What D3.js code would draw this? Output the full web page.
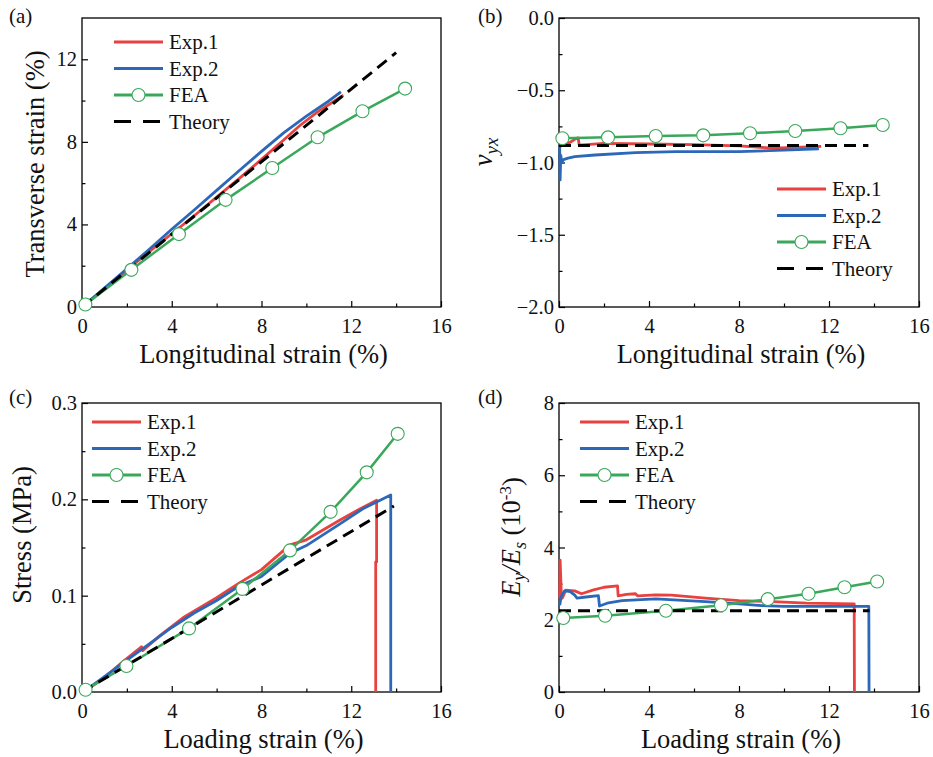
<!DOCTYPE html>
<html>
<head>
<meta charset="utf-8">
<script src="https://cdn.jsdelivr.net/npm/d3@7"></script>
<style>
  body { margin: 0; background: #fff; }
  svg text { font-family: "Liberation Serif", "Times New Roman", Times, serif; }
</style>
</head>
<body>
<script>
// ---- data ----
var xTicks = [0, 4, 8, 12, 16]
var legendNames = ['Exp.1', 'Exp.2', 'FEA', 'Theory']

// (a) transverse vs longitudinal strain
var aExp1 = [[0, 0], [1, 0.88], [2, 1.8], [3, 2.68], [4, 3.55], [5, 4.42], [6, 5.32], [7, 6.22], [8, 7.15], [9, 8.1], [9.7, 8.78], [10.5, 9.45], [11.65, 10.26]]
var aExp2 = [[0, 0], [1, 0.92], [2, 1.85], [3, 2.8], [4, 3.77], [5, 4.7], [6, 5.65], [7, 6.6], [8, 7.54], [9, 8.45], [10, 9.25], [11, 9.98], [11.54, 10.42]]
var aFEA = [[0.15, 0.12], [2.2, 1.8], [4.32, 3.53], [6.4, 5.19], [8.48, 6.73], [10.5, 8.22], [12.5, 9.48], [14.4, 10.58]]
var aTheory = [[0, 0], [14, 12.32]]
var aYTicks = [0, 4, 8, 12]

// (b) poisson's ratio
var bExp1 = [[0.08, -0.89], [0.2, -0.87], [0.5, -0.86], [0.75, -0.835], [0.85, -0.83], [0.9, -0.88], [2, -0.868], [4, -0.872], [6, -0.876], [8, -0.885], [9.5, -0.9], [10.5, -0.895], [11.65, -0.888]]
var bExp2 = [[0.03, -0.89], [0.05, -1.12], [0.08, -0.95], [0.12, -1.0], [0.2, -0.98], [0.4, -0.97], [0.7, -0.96], [1.6, -0.948], [3.4, -0.932], [5.2, -0.925], [8, -0.925], [10, -0.915], [11.55, -0.905]]
var bFEA = [[0.15, -0.832], [2.18, -0.826], [4.3, -0.817], [6.41, -0.812], [8.49, -0.798], [10.5, -0.782], [12.51, -0.763], [14.39, -0.74]]
var bTheory = [[0, -0.882], [13.75, -0.882]]
var bYTicks = [-2, -1.5, -1, -0.5, 0]

// (c) stress vs loading strain
var cExp1 = [[0, 0], [0.5, 0.007], [1, 0.015], [1.8, 0.031], [2.65, 0.047], [2.7, 0.043], [3.5, 0.059], [4.5, 0.077], [6, 0.098], [7, 0.113], [8, 0.127], [9.27, 0.1527], [10, 0.158], [11.5, 0.1786], [12.3, 0.189], [13.13, 0.199], [13.13, 0.135], [13.09, 0.135], [13.09, 0]]
var cExp2 = [[0.3, 0.004], [1, 0.016], [2, 0.033], [3, 0.05], [4, 0.067], [5, 0.082], [6, 0.095], [7, 0.11], [8, 0.12], [9.27, 0.144], [10, 0.152], [11.5, 0.1745], [12.5, 0.19], [13.76, 0.2046], [13.76, 0]]
var cFEA = [[0.16, 0.0024], [1.98, 0.027], [4.77, 0.066], [7.15, 0.107], [9.27, 0.147], [11.08, 0.187], [12.69, 0.228], [14.07, 0.268]]
var cTheory = [[0, 0], [13.9, 0.193]]
var cYTicks = [0, 0.1, 0.2, 0.3]

// (d) relative modulus
var dExp1 = [[0.03, 2.6], [0.05, 3.65], [0.1, 2.75], [0.15, 2.6], [0.3, 2.82], [0.7, 2.8], [1.0, 2.72], [1.5, 2.82], [2.0, 2.9], [2.6, 2.94], [2.63, 2.66], [3.0, 2.7], [3.4, 2.72], [3.5, 2.66], [4.3, 2.69], [5, 2.68], [6.5, 2.6], [8, 2.53], [9.5, 2.5], [11, 2.46], [13.12, 2.44], [13.13, 0]]
var dExp2 = [[0.03, 2.4], [0.1, 2.65], [0.25, 2.8], [0.5, 2.78], [0.7, 2.68], [0.8, 2.6], [1.2, 2.63], [1.75, 2.67], [1.8, 2.38], [2.2, 2.47], [2.8, 2.53], [4.3, 2.58], [6.5, 2.5], [8, 2.44], [9, 2.39], [10, 2.37], [13.77, 2.37], [13.78, 0]]
var dFEA = [[0.19, 2.05], [2.05, 2.11], [4.75, 2.25], [7.2, 2.40], [9.28, 2.57], [11.09, 2.72], [12.69, 2.90], [14.14, 3.06]]
var dTheory = [[0, 2.25], [13.8, 2.25]]
var dYTicks = [0, 2, 4, 6, 8]

var colors = { exp1: '#e8413f', exp2: '#2b68b8', fea: '#3aa85a', theory: '#000' }
var serif = '"Liberation Serif", "Times New Roman", Times, serif'

var svg = d3.select('body').append('svg')
  .attr('width', 933)
  .attr('height', 757)

function drawPanel(p) {
  var x = d3.scaleLinear().domain([0, 16]).range([p.l, p.r])
  var y = d3.scaleLinear().domain(p.yDomain).range([p.b, p.t])
  var g = svg.append('g')
    .attr('font-family', serif)

  // minor ticks
  var xMinor = d3.range(2, 16, 4)
  var yMinor = d3.range(p.yTicks.length - 1).map(i => (p.yTicks[i] + p.yTicks[i + 1]) / 2)

  g.append('g')
    .attr('transform', `translate(0,${p.b})`)
    .call(d3.axisBottom(x).tickValues(xMinor).tickSize(-3.5).tickFormat(''))
  g.append('g')
    .attr('transform', `translate(${p.l},0)`)
    .call(d3.axisLeft(y).tickValues(yMinor).tickSize(-3.5).tickFormat(''))

  // major ticks
  var xa = g.append('g')
    .attr('transform', `translate(0,${p.b})`)
    .call(d3.axisBottom(x).tickValues(xTicks).tickSize(-6).tickPadding(11).tickFormat(d3.format('d')))
  var ya = g.append('g')
    .attr('transform', `translate(${p.l},0)`)
    .call(d3.axisLeft(y).tickValues(p.yTicks).tickSize(-6).tickPadding(5).tickFormat(p.fmt))

  g.selectAll('g').attr('font-family', serif).attr('font-size', null)
  g.selectAll('.domain').remove()
  g.selectAll('.tick line').attr('stroke', '#000').attr('stroke-width', 1.2)
  xa.selectAll('text').style('font-size', '20.5px').attr('fill', '#111')
  ya.selectAll('text').style('font-size', '20.5px').attr('fill', '#111')

  g.append('rect')
    .attr('x', p.l).attr('y', p.t)
    .attr('width', p.r - p.l).attr('height', p.b - p.t)
    .attr('fill', 'none').attr('stroke', '#000').attr('stroke-width', 1.3)

  var line = d3.line().x(d => x(d[0])).y(d => y(d[1]))

  g.append('path').attr('d', line(p.exp1)).attr('fill', 'none')
    .attr('stroke', colors.exp1).attr('stroke-width', 2.8).attr('stroke-linejoin', 'round')
  g.append('path').attr('d', line(p.exp2)).attr('fill', 'none')
    .attr('stroke', colors.exp2).attr('stroke-width', 2.8).attr('stroke-linejoin', 'round')
  g.append('path').attr('d', line(p.fea)).attr('fill', 'none')
    .attr('stroke', colors.fea).attr('stroke-width', 2.5)
  g.append('path').attr('d', line(p.theory)).attr('fill', 'none')
    .attr('stroke', colors.theory).attr('stroke-width', 3).attr('stroke-dasharray', '12,7')
  g.selectAll('.fea-dot')
    .data(p.fea)
    .enter()
    .append('circle')
    .attr('class', 'fea-dot')
    .attr('cx', d => x(d[0]))
    .attr('cy', d => y(d[1]))
    .attr('r', 6.5)
    .attr('fill', '#fff')
    .attr('stroke', colors.fea)
    .attr('stroke-width', 1.1)

  // legend
  var lg = g.append('g')
  var styles = [
    { c: colors.exp1, dash: null },
    { c: colors.exp2, dash: null },
    { c: colors.fea, dash: null, dot: true },
    { c: colors.theory, dash: '17,12' }
  ]
  legendNames.forEach((name, i) => {
    var ly = p.legY + i * 26.5
    lg.append('line')
      .attr('x1', p.legX).attr('x2', p.legX + 49)
      .attr('y1', ly).attr('y2', ly)
      .attr('stroke', styles[i].c)
      .attr('stroke-width', 3)
      .attr('stroke-dasharray', styles[i].dash)
    if (styles[i].dot) {
      lg.append('circle')
        .attr('cx', p.legX + 24.5).attr('cy', ly).attr('r', 6.5)
        .attr('fill', '#fff').attr('stroke', colors.fea).attr('stroke-width', 1.1)
    }
    lg.append('text')
      .attr('x', p.legX + 55).attr('y', ly)
      .attr('dy', '0.34em')
      .style('font-size', '21px')
      .attr('fill', '#111')
      .text(name)
  })

  // panel letter
  g.append('text')
    .attr('x', p.labX).attr('y', p.labY)
    .style('font-size', '21px')
    .attr('fill', '#111')
    .text(p.label)

  // x title
  g.append('text')
    .attr('x', (p.l + p.r) / 2 + 2).attr('y', p.b + 56)
    .attr('text-anchor', 'middle')
    .style('font-size', '26.5px')
    .attr('fill', '#111')
    .text(p.xTitle)

  // y title
  var yt = g.append('text')
    .attr('transform', `translate(${p.yTitleX},${p.yTitleY}) rotate(-90)`)
    .attr('text-anchor', 'middle')
    .style('font-size', '26.5px')
    .attr('fill', '#111')
  p.yTitle(yt)
}

drawPanel({
  label: '(a)', labX: 9, labY: 23,
  l: 82, r: 441, t: 18, b: 307,
  yDomain: [0, 14], yTicks: aYTicks, fmt: d3.format('d'),
  exp1: aExp1, exp2: aExp2, fea: aFEA, theory: aTheory,
  legX: 114, legY: 42,
  xTitle: 'Longitudinal strain (%)',
  yTitleX: 44, yTitleY: 164,
  yTitle: t => t.text('Transverse strain (%)')
})

drawPanel({
  label: '(b)', labX: 478, labY: 23,
  l: 559, r: 919, t: 18, b: 307,
  yDomain: [-2, 0], yTicks: bYTicks, fmt: d3.format('.1f'),
  exp1: bExp1, exp2: bExp2, fea: bFEA, theory: bTheory,
  legX: 777, legY: 189,
  xTitle: 'Longitudinal strain (%)',
  yTitleX: 492, yTitleY: 152,
  yTitle: t => {
    t.append('tspan').style('font-style', 'italic').text('ν')
    t.append('tspan').style('font-style', 'italic').style('font-size', '19px').attr('dy', '0.3em').text('yx')
  }
})

drawPanel({
  label: '(c)', labX: 9, labY: 404,
  l: 82, r: 441, t: 403, b: 692,
  yDomain: [0, 0.3], yTicks: cYTicks, fmt: d3.format('.1f'),
  exp1: cExp1, exp2: cExp2, fea: cFEA, theory: cTheory,
  legX: 92, legY: 422,
  xTitle: 'Loading strain (%)',
  yTitleX: 31, yTitleY: 535,
  yTitle: t => t.text('Stress (MPa)')
})

drawPanel({
  label: '(d)', labX: 478, labY: 404,
  l: 559, r: 919, t: 403, b: 692,
  yDomain: [0, 8], yTicks: dYTicks, fmt: d3.format('d'),
  exp1: dExp1, exp2: dExp2, fea: dFEA, theory: dTheory,
  legX: 580, legY: 422,
  xTitle: 'Loading strain (%)',
  yTitleX: 520, yTitleY: 537,
  yTitle: t => {
    t.append('tspan').style('font-style', 'italic').text('E')
    t.append('tspan').style('font-style', 'italic').style('font-size', '18px').attr('dy', '0.3em').text('y')
    t.append('tspan').attr('dy', '-0.2em').style('font-style', 'italic').text('/E')
    t.append('tspan').style('font-style', 'italic').style('font-size', '18px').attr('dy', '0.3em').text('s')
    t.append('tspan').attr('dy', '-0.2em').text(' (10')
    t.append('tspan').style('font-size', '17px').attr('dy', '-0.55em').text('-3')
    t.append('tspan').attr('dy', '0.37em').text(')')
  }
})
</script>
</body>
</html>
